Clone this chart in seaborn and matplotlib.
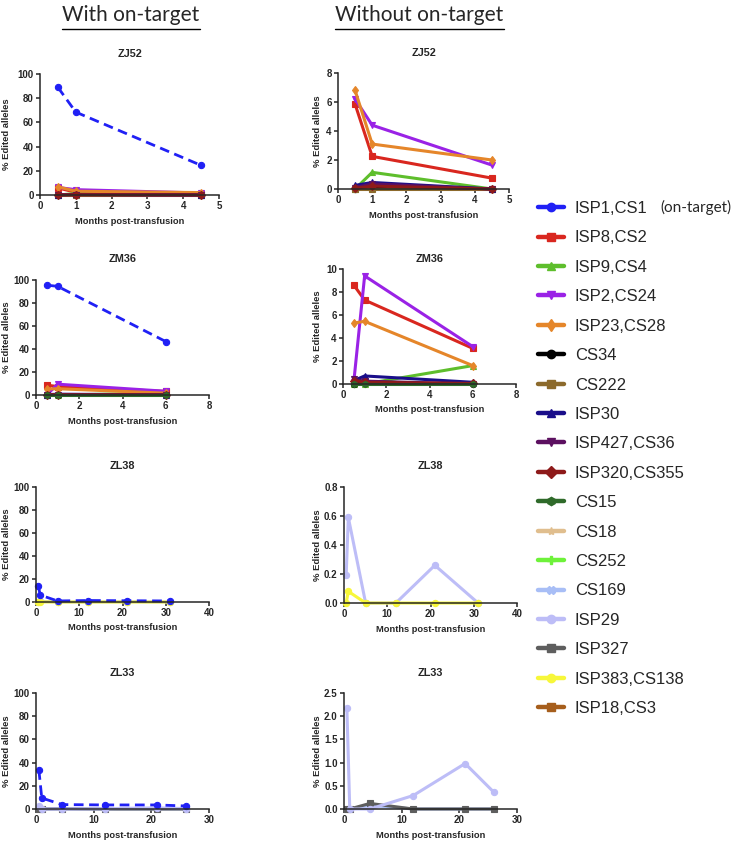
import numpy as np
import pandas as pd
import matplotlib.pyplot as plt
import seaborn as sns
from matplotlib.lines import Line2D

# months post-transfusion at which each animal was sampled
ZJ52_MONTHS = [0.5, 1, 4.5]
ZM36_MONTHS = [0.5, 1, 6]
ZL38_MONTHS = [0.5, 1, 5, 12, 21, 31]
ZL33_MONTHS = [0.5, 1, 4.5, 12, 21, 26]

# % edited alleles at the on-target site (ISP1,CS1)
ZJ52_ON = [89.0, 68.5, 24.5]
ZM36_ON = [95.5, 94.5, 46.5]
ZL38_ON = [14.0, 6.0, 0.9, 1.3, 1.1, 0.9]
ZL33_ON = [33.5, 9.5, 3.8, 3.5, 3.5, 2.6]

# % edited alleles at off-target sites
ZJ52_OFF = {
    "ISP8,CS2": [5.85, 2.25, 0.75],
    "ISP9,CS4": [0.0, 1.15, 0.0],
    "ISP2,CS24": [6.2, 4.4, 1.65],
    "ISP23,CS28": [6.8, 3.1, 2.0],
    "CS34": [0.0, 0.1, 0.0],
    "CS222": [0.0, 0.0, 0.0],
    "ISP30": [0.25, 0.45, 0.0],
    "ISP427,CS36": [0.1, 0.35, 0.0],
    "ISP320,CS355": [0.05, 0.2, 0.0],
}
ZM36_OFF = {
    "ISP8,CS2": [8.6, 7.3, 3.1],
    "ISP9,CS4": [0.0, 0.0, 1.6],
    "ISP2,CS24": [0.2, 9.4, 3.25],
    "ISP23,CS28": [5.3, 5.45, 1.6],
    "CS34": [0.0, 0.1, 0.0],
    "ISP30": [0.3, 0.7, 0.15],
    "ISP427,CS36": [0.4, 0.25, 0.0],
    "ISP320,CS355": [0.3, 0.15, 0.05],
    "CS15": [0.0, 0.0, 0.0],
}
ZL38_OFF = {
    "ISP29": [0.19, 0.59, 0.0, 0.0, 0.26, 0.0],
    "ISP383,CS138": [0.0, 0.08, 0.0, 0.0, 0.0, 0.0],
}
ZL33_OFF = {
    "CS169": [0.0, 0.0, 0.08, 0.0, 0.0, 0.0],
    "ISP327": [0.0, 0.0, 0.12, 0.0, 0.0, 0.0],
    "ISP29": [2.17, 0.0, 0.0, 0.29, 0.98, 0.36],
}

SITES = ["ISP1,CS1", "ISP8,CS2", "ISP9,CS4", "ISP2,CS24", "ISP23,CS28", "CS34",
         "CS222", "ISP30", "ISP427,CS36", "ISP320,CS355", "CS15", "CS18",
         "CS252", "CS169", "ISP29", "ISP327", "ISP383,CS138", "ISP18,CS3"]
COLORS = ["#2020F5", "#D9271F", "#5EBE2C", "#9A22E6", "#E5862A", "#000000",
          "#8C6A2C", "#1A0E8A", "#5C1060", "#8E1A1A", "#2F6A2A", "#E0BE8E",
          "#6EF23A", "#A8BEF6", "#BDBDF7", "#5E5E5E", "#F7F73A", "#A65E1C"]
MARKERS = ["o", "s", "^", "v", "d", "o", "s", "^", "v", "D", "h", "*",
           "P", "X", "o", "s", "o", "s"]
PALETTE = dict(zip(SITES, COLORS))
MARKER_MAP = dict(zip(SITES, MARKERS))

sns.set_style("ticks")
plt.rcParams["font.family"] = ["Liberation Sans", "DejaVu Sans"]
plt.rcParams["font.weight"] = "bold"
plt.rcParams["axes.labelweight"] = "bold"

W, H = 736, 841
fig = plt.figure(figsize=(W / 100, H / 100), dpi=100)


def to_long(months, off, on=None):
    rows = []
    if on is not None:
        rows += [("ISP1,CS1", m, v) for m, v in zip(months, on)]
    for site, vals in off.items():
        rows += [(site, m, v) for m, v in zip(months, vals)]
    return pd.DataFrame(rows, columns=["site", "month", "pct"])


def panel(box, title, title_y, months, off, on, xmax, xstep, ymax, ystep, yfmt):
    x0, x1, top, bottom = box
    ax = fig.add_axes([x0 / W, 1 - bottom / H, (x1 - x0) / W, (bottom - top) / H])
    df = to_long(months, off, on)
    order = list(off) + (["ISP1,CS1"] if on is not None else [])
    for site in order:
        sub = df[df["site"] == site]
        dashed = site == "ISP1,CS1"
        sns.lineplot(
            data=sub, x="month", y="pct", ax=ax,
            color=PALETTE[site], marker=MARKER_MAP[site],
            linewidth=2.0 if dashed else 2.2,
            linestyle=(0, (3.5, 2)) if dashed else "-",
            markersize=4.5, markeredgewidth=0.8, markeredgecolor=PALETTE[site],
            errorbar=None, legend=False, clip_on=False,
        )
    ax.set_xlim(0, xmax)
    ax.set_ylim(0, ymax)
    ax.set_xticks(np.arange(0, xmax + xstep / 2, xstep))
    ax.set_yticks(np.arange(0, ymax + ystep / 2, ystep))
    ax.set_yticklabels([yfmt.format(t) for t in ax.get_yticks()])
    ax.tick_params(labelsize=7, length=3, width=1.1, pad=1.5)
    for lab in ax.get_xticklabels() + ax.get_yticklabels():
        lab.set_fontweight("bold")
    for sp in ["left", "bottom"]:
        ax.spines[sp].set_linewidth(1.1)
    sns.despine(ax=ax)
    ax.set_xlabel("Months post-transfusion", fontsize=6.7)
    ax.xaxis.label.set_va("center")
    ax.xaxis.set_label_coords((x0 + x1) / 2 / W, 1 - (bottom + 26) / H,
                              transform=fig.transFigure)
    ax.set_ylabel("% Edited alleles", fontsize=6.8)
    ax.yaxis.label.set_va("center")
    ylab_x = 7 if x0 < 300 else 317
    ax.yaxis.set_label_coords(ylab_x / W, 1 - (top + bottom) / 2 / H,
                              transform=fig.transFigure)
    fig.text((x0 + x1) / 2 / W, 1 - title_y / H, title, fontsize=7.8,
             fontweight="bold", ha="center", va="center")
    return ax


panels = [
    ((40, 219, 74, 195), "ZJ52", 54, ZJ52_MONTHS, ZJ52_OFF, ZJ52_ON, 5, 1, 100, 20, "{:.0f}"),
    ((338, 509, 73, 189), "ZJ52", 53, ZJ52_MONTHS, ZJ52_OFF, None, 5, 1, 8, 2, "{:.0f}"),
    ((36, 209, 280, 395), "ZM36", 259, ZM36_MONTHS, ZM36_OFF, ZM36_ON, 8, 2, 100, 20, "{:.0f}"),
    ((343, 516, 269, 384), "ZM36", 259, ZM36_MONTHS, ZM36_OFF, None, 8, 2, 10, 2, "{:.0f}"),
    ((36, 209, 487, 602), "ZL38", 466, ZL38_MONTHS, ZL38_OFF, ZL38_ON, 40, 10, 100, 20, "{:.0f}"),
    ((344, 517, 487, 603), "ZL38", 466, ZL38_MONTHS, ZL38_OFF, None, 40, 10, 0.8, 0.2, "{:.1f}"),
    ((36, 209, 693, 809), "ZL33", 673, ZL33_MONTHS, ZL33_OFF, ZL33_ON, 30, 10, 100, 20, "{:.0f}"),
    ((344, 517, 693, 809), "ZL33", 673, ZL33_MONTHS, ZL33_OFF, None, 30, 10, 2.5, 0.5, "{:.1f}"),
]
for args in panels:
    panel(*args)

# column headers (underlined)
for text, x0, x1 in [("With on-target", 62, 200), ("Without on-target", 335, 504)]:
    fig.text((x0 + x1) / 2 / W, 1 - 15 / H, text, family=["Lato", "DejaVu Sans"],
             fontweight="normal", fontsize=15, ha="center", va="center")
    fig.add_artist(Line2D([x0 / W, x1 / W], [1 - 29 / H, 1 - 29 / H],
                          color="black", linewidth=1.0, transform=fig.transFigure))

# legend
handles = [Line2D([], [], color=PALETTE[s], marker=MARKER_MAP[s], linewidth=3.2,
                  markersize=6, markeredgecolor=PALETTE[s]) for s in SITES]
fig.legend(handles, SITES, loc="upper left", bbox_to_anchor=(538 / W, 1 - 201 / H),
           frameon=False, labelspacing=0.865, handlelength=1.56,
           handletextpad=0.66, borderpad=0, borderaxespad=0,
           prop={"family": ["Liberation Sans", "DejaVu Sans"], "weight": "normal", "size": 12})
fig.text(660 / W, 1 - 207 / H, "(on-target)", family=["Lato", "DejaVu Sans"],
         fontweight="normal", fontsize=11, ha="left", va="center")

fig.savefig("out.png", dpi=100)
